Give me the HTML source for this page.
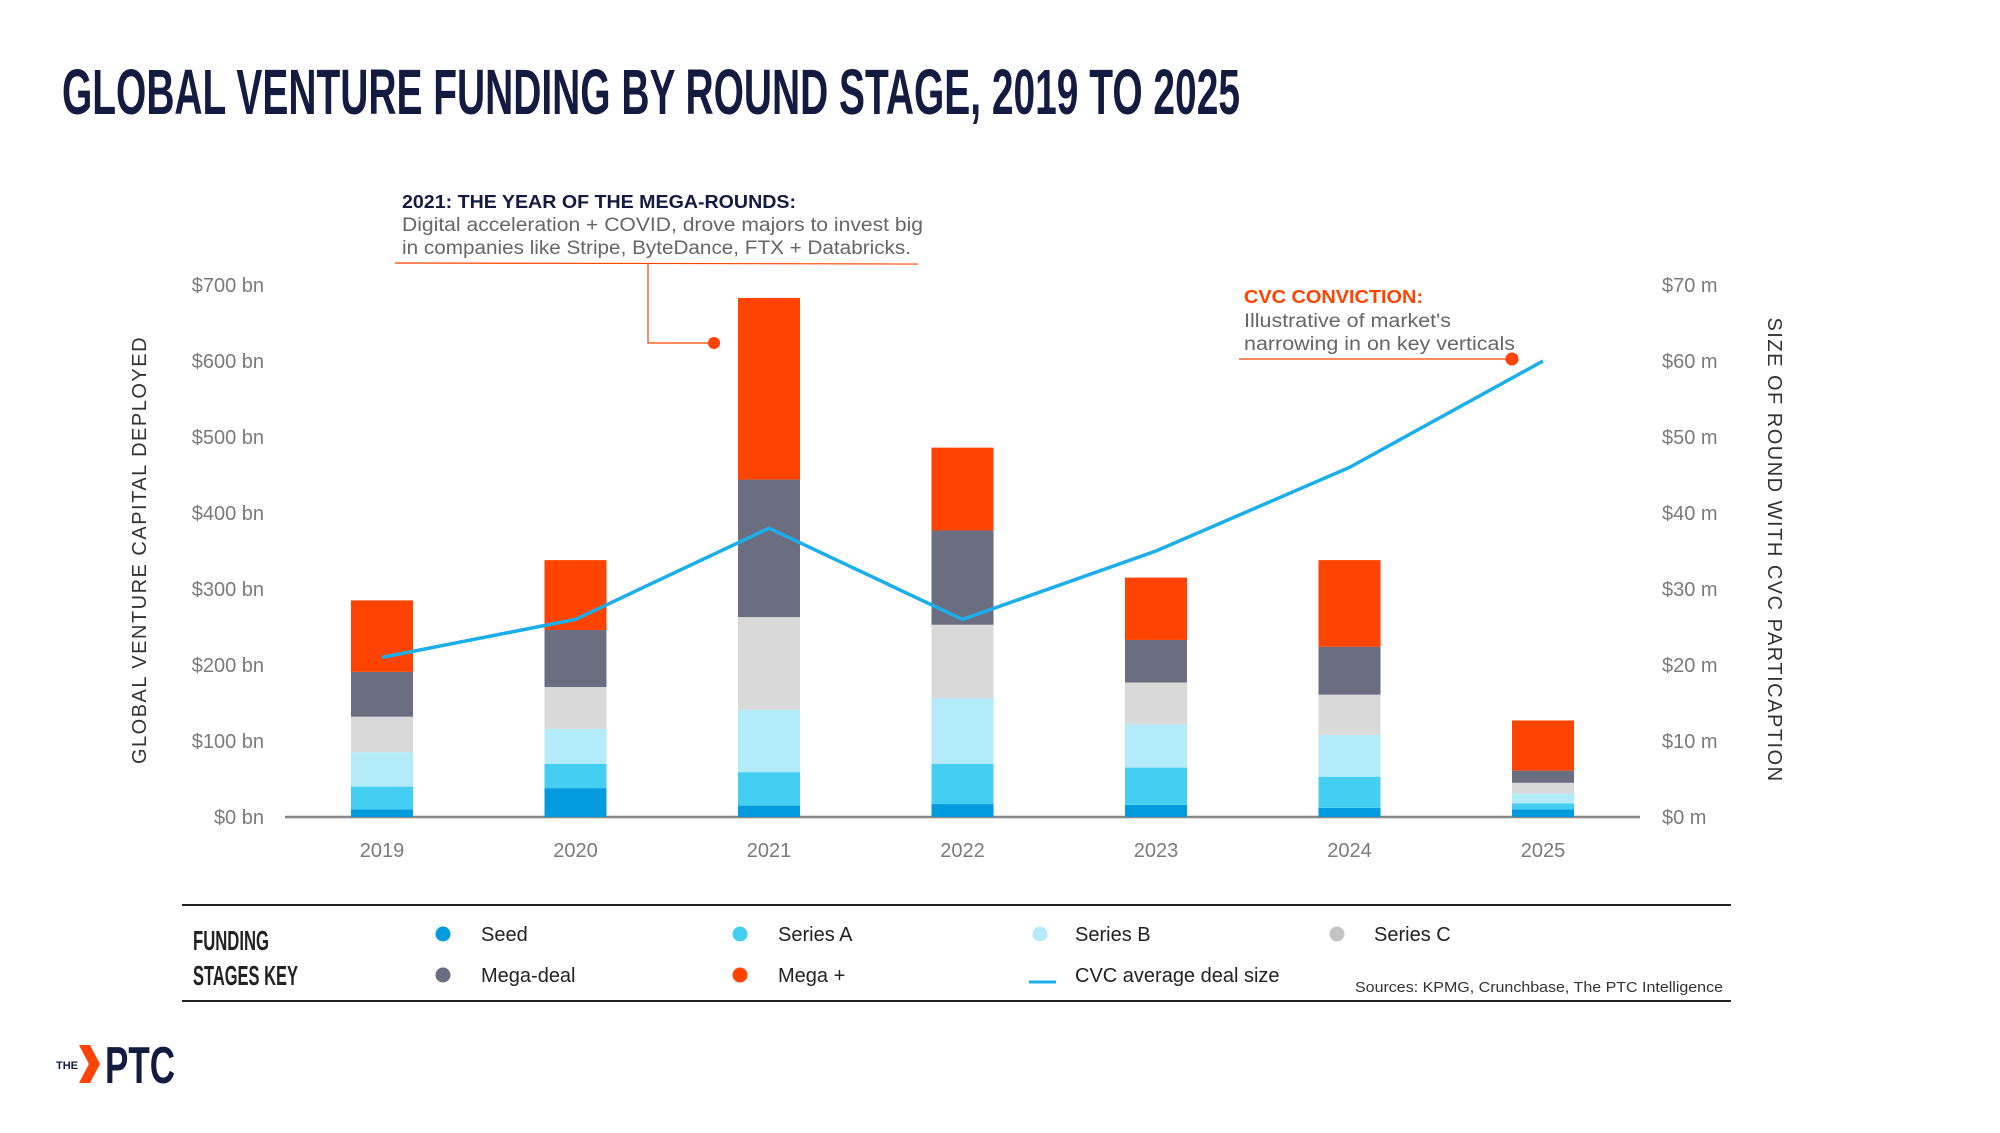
<!DOCTYPE html>
<html><head><meta charset="utf-8"><style>
html,body{margin:0;padding:0;background:#fff;}
svg{display:block;font-family:"Liberation Sans",sans-serif;}
</style></head><body>
<svg id="chart" width="2000" height="1133" viewBox="0 0 2000 1133" xmlns="http://www.w3.org/2000/svg">
<text x="62" y="114" font-size="64" font-weight="bold" fill="#131c40" textLength="1178" lengthAdjust="spacingAndGlyphs">GLOBAL VENTURE FUNDING BY ROUND STAGE, 2019 TO 2025</text>

<g id="axes"></g>
<g id="bars"></g>
<g id="line"></g>

<text transform="translate(146,550) rotate(-90)" text-anchor="middle" font-size="20" fill="#333" letter-spacing="1.5">GLOBAL VENTURE CAPITAL DEPLOYED</text>
<text transform="translate(1768,550) rotate(90)" text-anchor="middle" font-size="20" fill="#333" letter-spacing="1.5">SIZE OF ROUND WITH CVC PARTICAPTION</text>

<g>
<text x="402" y="208" font-size="18" font-weight="bold" fill="#131c40" textLength="394" lengthAdjust="spacingAndGlyphs">2021: THE YEAR OF THE MEGA-ROUNDS:</text>
<text x="402" y="231" font-size="19" fill="#666" textLength="521" lengthAdjust="spacingAndGlyphs">Digital acceleration + COVID, drove majors to invest big</text>
<text x="402" y="254" font-size="19" fill="#666" textLength="509" lengthAdjust="spacingAndGlyphs">in companies like Stripe, ByteDance, FTX + Databricks.</text>
<line x1="395" y1="263" x2="918" y2="264" stroke="#ff4300" stroke-width="1.2"/>
<polyline points="648,263 648,343 712,343" fill="none" stroke="#ff4300" stroke-width="1.2"/>
<circle cx="714" cy="343" r="6" fill="#ff4300"/>
</g>
<g>
<text x="1244" y="303" font-size="18" font-weight="bold" fill="#ff4300" textLength="179" lengthAdjust="spacingAndGlyphs">CVC CONVICTION:</text>
<text x="1244" y="327" font-size="19" fill="#666" textLength="207" lengthAdjust="spacingAndGlyphs">Illustrative of market's</text>
<text x="1244" y="350" font-size="19" fill="#666" textLength="271" lengthAdjust="spacingAndGlyphs">narrowing in on key verticals</text>
<line x1="1239" y1="359" x2="1512" y2="359" stroke="#ff4300" stroke-width="1.2"/>
<circle cx="1512" cy="359" r="6.5" fill="#ff4300"/>
</g>

<g>
<line x1="182" y1="905" x2="1731" y2="905" stroke="#222" stroke-width="2"/>
<line x1="182" y1="1001" x2="1731" y2="1001" stroke="#222" stroke-width="2"/>
<text x="193" y="950" font-size="28" font-weight="bold" fill="#222" textLength="76" lengthAdjust="spacingAndGlyphs">FUNDING</text>
<text x="193" y="985" font-size="28" font-weight="bold" fill="#222" textLength="105" lengthAdjust="spacingAndGlyphs">STAGES KEY</text>
<g font-size="20" fill="#222">
<g><circle cx="443" cy="934" r="7.5" fill="#039be0"/><text x="481" y="941">Seed</text></g>
<g><circle cx="740" cy="934" r="7.5" fill="#44cff2"/><text x="778" y="941">Series A</text></g>
<g><circle cx="1040" cy="934" r="7.5" fill="#b3ebf9"/><text x="1075" y="941">Series B</text></g>
<g><circle cx="1337" cy="934" r="7.5" fill="#c4c4c4"/><text x="1374" y="941">Series C</text></g>
<g><circle cx="443" cy="975" r="7.5" fill="#6a6e80"/><text x="481" y="982">Mega-deal</text></g>
<g><circle cx="740" cy="975" r="7.5" fill="#ff4300"/><text x="778" y="982">Mega +</text></g>
<g><line x1="1029" y1="982" x2="1056" y2="982" stroke="#1aaeeb" stroke-width="3"/><text x="1075" y="982">CVC average deal size</text></g>
</g>
<text x="1723" y="992" text-anchor="end" font-size="15" fill="#333" textLength="368" lengthAdjust="spacingAndGlyphs">Sources: KPMG, Crunchbase, The PTC Intelligence</text>
</g>

<g>
<text x="56" y="1069" font-size="11" font-weight="bold" fill="#131c40">THE</text>
<polygon points="79,1045 90,1045 100,1064 90,1083 79,1083 89,1064" fill="#ff4300"/>
<text x="105" y="1083" font-size="52" font-weight="bold" fill="#131c40" textLength="70" lengthAdjust="spacingAndGlyphs">PTC</text>
</g>
</svg>
<script>
const years = ['2019','2020','2021','2022','2023','2024','2025'];
const seed     = [10, 38, 15, 17, 16, 12, 10];
const seriesA  = [30, 32, 44, 53, 49, 41, 8];
const seriesB  = [45, 46, 82, 86, 57, 55, 13];
const seriesC  = [47, 55, 122, 97, 55, 53, 14];
const megaDeal = [59, 75, 181, 124, 56, 63, 16];
const megaPlus = [94, 92, 239, 109, 82, 114, 66];
const cvcAvg   = [21, 26, 38, 26, 35, 46, 60];
const leftTicks  = ['$0 bn','$100 bn','$200 bn','$300 bn','$400 bn','$500 bn','$600 bn','$700 bn'];
const rightTicks = ['$0 m','$10 m','$20 m','$30 m','$40 m','$50 m','$60 m','$70 m'];

const NS='http://www.w3.org/2000/svg';
const y0=817, y700=285;
const yL = v => y0 - v*(y0-y700)/700;
const yR = v => y0 - v*(y0-y700)/70;
const xC = i => 382 + i*193.5;
const barW = 62;
function mk(tag, attrs, parent){const e=document.createElementNS(NS,tag);for(const k in attrs)e.setAttribute(k,attrs[k]);parent.appendChild(e);return e;}

const axes=document.getElementById('axes');
leftTicks.forEach((t,i)=>{
  const e=mk('text',{x:264,y:yL(i*100)+7,'text-anchor':'end','font-size':20,fill:'#7a7a7a'},axes);
  
  
  e.textContent=t;
});
rightTicks.forEach((t,i)=>{
  const e=mk('text',{x:1662,y:yR(i*10)+7,'font-size':20,fill:'#7a7a7a'},axes);
  
  
  e.textContent=t;
});
years.forEach((y,i)=>{
  const e=mk('text',{x:xC(i),y:857,'text-anchor':'middle','font-size':20,fill:'#7a7a7a'},axes);
  
  
  e.textContent=y;
});

const bars=document.getElementById('bars');
const series=[[seed,'#039be0','seed'],[seriesA,'#44cff2','series-a'],[seriesB,'#b3ebf9','series-b'],[seriesC,'#d9d9d9','series-c'],[megaDeal,'#6a6e80','mega-deal'],[megaPlus,'#ff4300','mega-plus']];
years.forEach((yr,i)=>{
  let acc=0;
  series.forEach(([arr,col,nm])=>{
    const top=yL(acc+arr[i]), bot=yL(acc);
    const r=mk('rect',{x:xC(i)-barW/2,y:top,width:barW,height:bot-top,fill:col},bars);
    
    
    acc+=arr[i];
  });
});
const base=mk('line',{x1:285,y1:y0,x2:1640,y2:y0,stroke:'#888','stroke-width':2.5},axes);



const lg=document.getElementById('line');
const pl=mk('polyline',{points:cvcAvg.map((v,i)=>xC(i)+','+yR(v)).join(' '),fill:'none',stroke:'#1aaeeb','stroke-width':3.5,'stroke-linejoin':'round'},lg);


</script>
</body></html>
